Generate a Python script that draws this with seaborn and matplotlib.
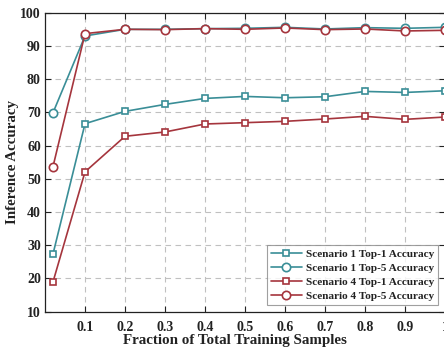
import matplotlib
matplotlib.use("Agg")
import matplotlib.pyplot as plt
import seaborn as sns
import pandas as pd

fractions = [0.02, 0.1, 0.2, 0.3, 0.4, 0.5, 0.6, 0.7, 0.8, 0.9, 1.0]
s1_top1 = [27.4, 66.6, 70.3, 72.4, 74.2, 74.8, 74.4, 74.7, 76.3, 76.0, 76.5]
s1_top5 = [69.9, 93.0, 95.0, 95.0, 95.2, 95.3, 95.6, 95.1, 95.5, 95.3, 95.6]
s4_top1 = [19.0, 52.1, 62.8, 64.1, 66.5, 66.9, 67.3, 68.0, 68.8, 67.9, 68.6]
s4_top5 = [53.7, 93.7, 95.0, 94.9, 95.2, 95.0, 95.4, 94.9, 95.1, 94.5, 94.7]

x_ticks = [0.1, 0.2, 0.3, 0.4, 0.5, 0.6, 0.7, 0.8, 0.9, 1.0]
x_tick_labels = ["0.1", "0.2", "0.3", "0.4", "0.5", "0.6", "0.7", "0.8", "0.9", "1"]
y_ticks = [10, 20, 30, 40, 50, 60, 70, 80, 90, 100]

teal = "#3a8e97"
red = "#a5353d"

sns.set_theme(style="white")
plt.rcParams["font.family"] = ["Liberation Serif", "DejaVu Serif"]
plt.rcParams["font.weight"] = "bold"
plt.rcParams["axes.labelweight"] = "bold"

fig = plt.figure(figsize=(4.44, 3.47), dpi=100)
ax = fig.add_axes([0.1014, 0.1017, 0.9009, 0.8617])

series = [
    ("Scenario 1 Top-1 Accuracy", s1_top1, teal, "s", 4.6),
    ("Scenario 1 Top-5 Accuracy", s1_top5, teal, "o", 6.0),
    ("Scenario 4 Top-1 Accuracy", s4_top1, red, "s", 4.6),
    ("Scenario 4 Top-5 Accuracy", s4_top5, red, "o", 6.0),
]
for name, vals, color, marker, ms in series:
    df = pd.DataFrame({"fraction": fractions, "acc": vals})
    sns.lineplot(data=df, x="fraction", y="acc", ax=ax, color=color, marker=marker,
                 markersize=ms, markerfacecolor="white", markeredgecolor=color,
                 markeredgewidth=1.2, linewidth=1.2, label=name, clip_on=False)

ax.set_xlim(0, 1.0)
ax.set_ylim(10, 100)
ax.set_xticks(x_ticks)
ax.set_xticklabels(x_tick_labels)
ax.set_yticks(y_ticks)
ax.grid(True, linestyle=(0, (5, 4)), color="#c0c0c0", linewidth=0.8)
ax.tick_params(direction="in", length=4, width=0.8, top=True, right=True,
               bottom=True, left=True, labelsize=10, colors="#222222", pad=3)
ax.tick_params(axis="x", pad=7)
for lab in ax.get_xticklabels() + ax.get_yticklabels():
    lab.set_fontweight("bold")
for sp in ax.spines.values():
    sp.set_color("#222222")
    sp.set_linewidth(0.9)

ax.set_xlabel("Fraction of Total Training Samples", fontsize=10.8, fontweight="bold", color="#222222")
ax.set_ylabel("Inference Accuracy", fontsize=10.8, fontweight="bold", color="#222222")
ax.xaxis.set_label_coords(0.475, -0.075)
ax.yaxis.set_label_coords(-0.066, 0.5)

leg = ax.legend(loc="lower right", fontsize=8.1, frameon=True, fancybox=False,
                edgecolor="#888888", borderpad=0.35, labelspacing=0.38,
                handlelength=2.7, handletextpad=0.4, borderaxespad=0.6)
leg.get_frame().set_linewidth(0.8)
for t in leg.get_texts():
    t.set_fontweight("bold")
    t.set_color("#222222")

fig.savefig("out.png", dpi=100)
